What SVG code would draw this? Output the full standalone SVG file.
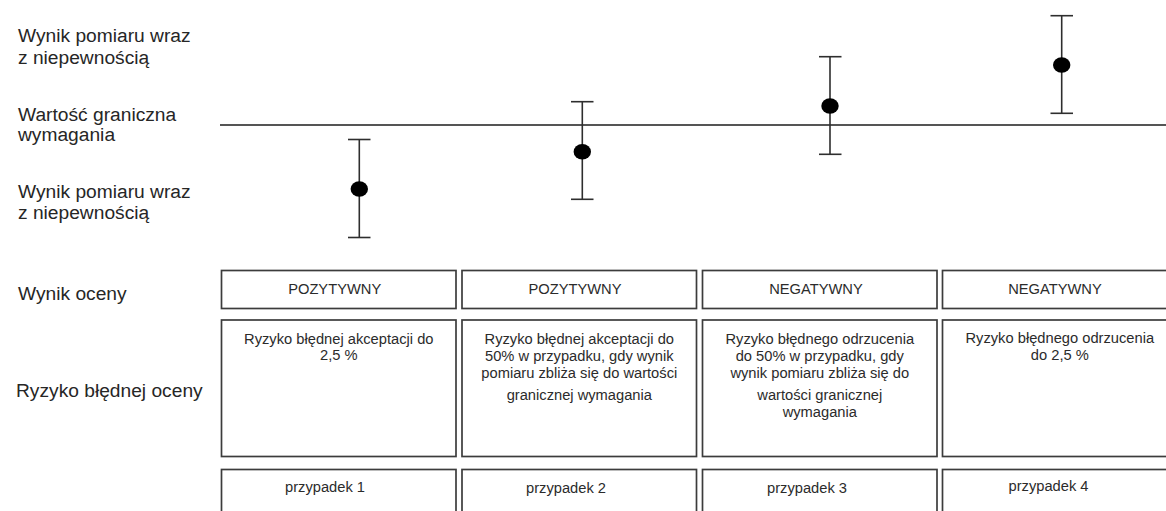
<svg xmlns="http://www.w3.org/2000/svg" width="1166" height="511" viewBox="0 0 1166 511">
  <style>
    .lbl { font-family: "Liberation Sans", Arial, sans-serif; font-size: 19.2px; fill: #262626; }
    .bt { font-family: "Liberation Sans", Arial, sans-serif; font-size: 14.7px; fill: #2b2b2b; text-anchor: middle; }
    .box { fill: #ffffff; stroke: #3c3c3c; stroke-width: 1.7; }
    .bar { stroke: #2e2e2e; stroke-width: 1.6; fill: none; }
    .dot { fill: #000000; }
    .limit { stroke: #555555; stroke-width: 2; }
  </style>
  <rect width="1166" height="511" fill="#ffffff"/>

  <g id="labels">
    <text class="lbl" x="18" y="42">Wynik pomiaru wraz</text>
    <text class="lbl" x="18" y="63.5">z niepewnością</text>
    <text class="lbl" x="18" y="121">Wartość graniczna</text>
    <text class="lbl" x="18" y="141">wymagania</text>
    <text class="lbl" x="18" y="197.5">Wynik pomiaru wraz</text>
    <text class="lbl" x="18" y="218.5">z niepewnością</text>
    <text class="lbl" x="18" y="300">Wynik oceny</text>
    <text class="lbl" x="16" y="397">Ryzyko błędnej oceny</text>
  </g>

  <g id="connectors">
    <line id="limit-line" class="limit" x1="220" y1="125" x2="1166" y2="125"/>
  </g>

  <g id="bar1">
    <line class="bar" x1="359.3" y1="139.5" x2="359.3" y2="237.5"/>
    <line class="bar" x1="348" y1="139.5" x2="370.5" y2="139.5"/>
    <line class="bar" x1="348" y1="237.5" x2="370.5" y2="237.5"/>
    <ellipse class="dot" cx="359.3" cy="189" rx="8.7" ry="7.8"/>
  </g>
  <g id="bar2">
    <line class="bar" x1="582.3" y1="101.7" x2="582.3" y2="199.3"/>
    <line class="bar" x1="571" y1="101.7" x2="593.5" y2="101.7"/>
    <line class="bar" x1="571" y1="199.3" x2="593.5" y2="199.3"/>
    <ellipse class="dot" cx="582.3" cy="151.7" rx="8.7" ry="7.8"/>
  </g>
  <g id="bar3">
    <line class="bar" x1="830" y1="56.7" x2="830" y2="154.3"/>
    <line class="bar" x1="819" y1="56.7" x2="841.5" y2="56.7"/>
    <line class="bar" x1="819" y1="154.3" x2="841.5" y2="154.3"/>
    <ellipse class="dot" cx="830" cy="106" rx="8.7" ry="7.8"/>
  </g>
  <g id="bar4">
    <line class="bar" x1="1061.7" y1="15.7" x2="1061.7" y2="113.3"/>
    <line class="bar" x1="1050.5" y1="15.7" x2="1073" y2="15.7"/>
    <line class="bar" x1="1050.5" y1="113.3" x2="1073" y2="113.3"/>
    <ellipse class="dot" cx="1061.7" cy="65" rx="8.7" ry="7.8"/>
  </g>

  <g id="result1">
    <rect class="box" x="221.5" y="270.5" width="234.5" height="38"/>
    <text class="bt" x="334.7" y="294">POZYTYWNY</text>
  </g>
  <g id="result2">
    <rect class="box" x="462" y="270.5" width="234.5" height="38"/>
    <text class="bt" x="575" y="294">POZYTYWNY</text>
  </g>
  <g id="result3">
    <rect class="box" x="702.5" y="270.5" width="234.5" height="38"/>
    <text class="bt" x="816" y="294">NEGATYWNY</text>
  </g>
  <g id="result4">
    <rect class="box" x="942.5" y="270.5" width="234.5" height="38"/>
    <text class="bt" x="1055" y="294">NEGATYWNY</text>
  </g>

  <g id="risk1">
    <rect class="box" x="221.5" y="320" width="234.5" height="136.5"/>
    <text class="bt" x="338.8" y="343.5">Ryzyko błędnej akceptacji do</text>
    <text class="bt" x="338.8" y="360">2,5 %</text>
  </g>
  <g id="risk2">
    <rect class="box" x="462" y="320" width="234.5" height="136.5"/>
    <text class="bt" x="579.3" y="344">Ryzyko błędnej akceptacji do</text>
    <text class="bt" x="579.3" y="361">50% w przypadku, gdy wynik</text>
    <text class="bt" x="579.3" y="378">pomiaru zbliża się do wartości</text>
    <text class="bt" x="579.3" y="400">granicznej wymagania</text>
  </g>
  <g id="risk3">
    <rect class="box" x="702.5" y="320" width="234.5" height="136.5"/>
    <text class="bt" x="819.8" y="344">Ryzyko błędnego odrzucenia</text>
    <text class="bt" x="819.8" y="361">do 50% w przypadku, gdy</text>
    <text class="bt" x="819.8" y="378">wynik pomiaru zbliża się do</text>
    <text class="bt" x="819.8" y="400">wartości granicznej</text>
    <text class="bt" x="819.8" y="416.5">wymagania</text>
  </g>
  <g id="risk4">
    <rect class="box" x="942.5" y="320" width="234.5" height="136.5"/>
    <text class="bt" x="1059.8" y="343">Ryzyko błędnego odrzucenia</text>
    <text class="bt" x="1059.8" y="359.5">do 2,5 %</text>
  </g>

  <g id="case1">
    <rect class="box" x="221.5" y="469.5" width="234.5" height="60"/>
    <text class="bt" x="325" y="491.5">przypadek 1</text>
  </g>
  <g id="case2">
    <rect class="box" x="462" y="469.5" width="234.5" height="60"/>
    <text class="bt" x="566" y="492.5">przypadek 2</text>
  </g>
  <g id="case3">
    <rect class="box" x="702.5" y="469.5" width="234.5" height="60"/>
    <text class="bt" x="807" y="493">przypadek 3</text>
  </g>
  <g id="case4">
    <rect class="box" x="942.5" y="469.5" width="234.5" height="60"/>
    <text class="bt" x="1048.5" y="491">przypadek 4</text>
  </g>
</svg>
